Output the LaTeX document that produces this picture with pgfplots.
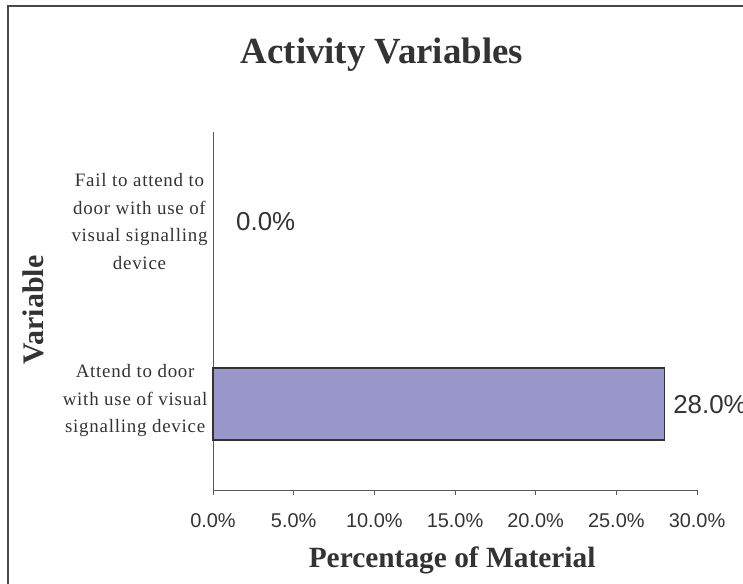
\documentclass[border=0pt]{standalone}
\usepackage{fontspec}
\setmainfont{Liberation Serif}
\newfontfamily\sansf{Liberation Sans}
\usepackage{pgfplots}
\pgfplotsset{compat=1.18}
\definecolor{barfill}{RGB}{153,150,202}
\definecolor{txt}{RGB}{51,51,51}
\definecolor{axl}{RGB}{90,90,90}
\begin{document}
\begin{tikzpicture}
\useasboundingbox (0,0) rectangle (743bp,-584bp);
\clip (0,0) rectangle (743bp,-584bp);
\draw[axl!80!black, line width=1.4bp] (8bp,-600bp) -- (8bp,-6bp) -- (770bp,-6bp);
\begin{axis}[
  at={(213bp,-490bp)}, anchor=south west,
  scale only axis, width=484bp, height=358bp,
  xmin=0, xmax=30, ymin=0, ymax=2,
  axis x line=bottom, axis y line=left,
  axis line style={-, draw=axl, line width=0.9bp},
  xtick={0,5,10,15,20,25,30},
  xticklabel={\pgfmathprintnumber[fixed,fixed zerofill,precision=1]{\tick}\%},
  /pgf/number format/assume math mode=true,
  xticklabel style={font=\sansf\fontsize{20}{24}\selectfont, text=txt, yshift=-15bp},
  ytick={0.5,1.5},
  yticklabels={{Attend to door\\with use of visual\\signalling device},{Fail to attend to\\door with use of\\visual signalling\\device}},
  yticklabel style={font=\fontsize{19}{28}\selectfont\addfontfeatures{LetterSpace=4}, text=txt, align=center, xshift=3bp},
  ytick style={draw=none},
  minor ytick={0,1,2},
  tick align=outside,
  major tick length=5bp, minor tick length=5bp,
  tick style={draw=axl, line width=0.9bp},
  every tick/.style={draw=axl, line width=0.9bp},
  title={Activity Variables},
  title style={font=\bfseries\fontsize{37}{40}\selectfont, text=txt, at={(axis description cs:0.349,1.1737)}, anchor=base},
  xlabel={Percentage of Material},
  xlabel style={font=\bfseries\fontsize{29.5}{32}\selectfont, text=txt, at={(axis description cs:0.494,-0.2151)}, anchor=base},
  ylabel={Variable},
  ylabel style={font=\bfseries\fontsize{30}{32}\selectfont, text=txt, at={(axis description cs:-0.3512,0.5028)}, anchor=base, rotate=0},
  clip=false,
]
\addplot[xbar, bar shift=0pt, bar width=72bp, fill=barfill, draw=black!80, line width=1.2bp,
  point meta=explicit, nodes near coords={\pgfmathprintnumber[fixed,fixed zerofill,precision=1]{\pgfplotspointmeta}\%},
  nodes near coords style={font=\sansf\fontsize{26}{30}\selectfont, text=txt, anchor=west, inner sep=0pt, xshift=8bp}]
  coordinates {(28,0.48) [28]};
\addplot[xbar, bar shift=0pt, bar width=72bp, draw=none, fill=none,
  point meta=explicit, nodes near coords={\pgfmathprintnumber[fixed,fixed zerofill,precision=1]{\pgfplotspointmeta}\%},
  nodes near coords style={font=\sansf\fontsize{26}{30}\selectfont, text=txt, anchor=west, inner sep=0pt, xshift=23bp}]
  coordinates {(0,1.5) [0]};
\end{axis}
\end{tikzpicture}
\end{document}
